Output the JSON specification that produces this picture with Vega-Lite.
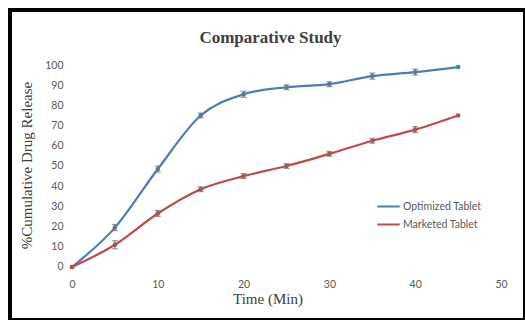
{
  "$schema": "https://vega.github.io/schema/vega-lite/v6.json",
  "width": 515,
  "height": 310,
  "autosize": {"type": "none"},
  "padding": {"left": 10, "top": 10, "right": 0, "bottom": 0},
  "background": "white",
  "config": {
    "view": {"stroke": "#000000", "strokeWidth": 4},
    "axis": {"grid": false, "domain": false, "ticks": false, "labelFont": "Lato", "labelFontSize": 10.5, "labelColor": "#595959", "titleFont": "Liberation Serif", "titleFontSize": 15, "titleFontWeight": "normal", "titleColor": "#404040"}
  },
  "title": {"text": "Comparative Study", "font": "Liberation Serif", "fontSize": 17, "fontWeight": "bold", "color": "#404040", "offset": -37, "anchor": "middle", "dx": 3},
  "data": {
    "values": [
      {"t": 0, "v": 0, "err": 0, "s": "Optimized Tablet"},
      {"t": 5, "v": 19.5, "err": 1.5, "s": "Optimized Tablet"},
      {"t": 10, "v": 48.5, "err": 1.5, "s": "Optimized Tablet"},
      {"t": 15, "v": 75, "err": 1.2, "s": "Optimized Tablet"},
      {"t": 20, "v": 85.5, "err": 1.5, "s": "Optimized Tablet"},
      {"t": 25, "v": 89, "err": 1.2, "s": "Optimized Tablet"},
      {"t": 30, "v": 90.5, "err": 1.2, "s": "Optimized Tablet"},
      {"t": 35, "v": 94.5, "err": 1.5, "s": "Optimized Tablet"},
      {"t": 40, "v": 96.5, "err": 1.5, "s": "Optimized Tablet"},
      {"t": 45, "v": 99, "err": 0, "s": "Optimized Tablet"},
      {"t": 0, "v": 0, "err": 0, "s": "Marketed Tablet"},
      {"t": 5, "v": 11, "err": 2, "s": "Marketed Tablet"},
      {"t": 10, "v": 26.5, "err": 1.5, "s": "Marketed Tablet"},
      {"t": 15, "v": 38.5, "err": 1.2, "s": "Marketed Tablet"},
      {"t": 20, "v": 45, "err": 1.2, "s": "Marketed Tablet"},
      {"t": 25, "v": 50, "err": 1.2, "s": "Marketed Tablet"},
      {"t": 30, "v": 56, "err": 1.2, "s": "Marketed Tablet"},
      {"t": 35, "v": 62.5, "err": 1.2, "s": "Marketed Tablet"},
      {"t": 40, "v": 68, "err": 1.5, "s": "Marketed Tablet"},
      {"t": 45, "v": 75, "err": 0, "s": "Marketed Tablet"}
    ]
  },
  "encoding": {
    "x": {"field": "t", "type": "quantitative", "scale": {"domain": [-7.226, 52.797], "nice": false, "zero": false}, "axis": {"values": [0, 10, 20, 30, 40, 50], "offset": -53, "labelPadding": 12, "title": "Time (Min)", "titlePadding": 2}},
    "y": {"field": "v", "type": "quantitative", "scale": {"domain": [-26.24, 127.23], "nice": false, "zero": false}, "axis": {"values": [0, 10, 20, 30, 40, 50, 60, 70, 80, 90, 100], "offset": -62, "labelPadding": 9, "title": "%Cumulative Drug Release", "titlePadding": 10}}
  },
  "layer": [
    {
      "data": {"values": [{}]},
      "mark": {"type": "rule", "color": "#bfbfbf", "strokeWidth": 1},
      "encoding": {"x": {"datum": 0, "type": "quantitative"}, "x2": {"datum": 50}, "y": {"datum": 0, "type": "quantitative"}}
    },
    {
      "data": {"values": [{}]},
      "mark": {"type": "rule", "color": "#bfbfbf", "strokeWidth": 1},
      "encoding": {"x": {"datum": 0, "type": "quantitative"}, "y": {"datum": 0, "type": "quantitative"}, "y2": {"datum": 100}}
    },
    {
      "mark": {"type": "line", "interpolate": "monotone", "strokeWidth": 2.2},
      "encoding": {
        "color": {"field": "s", "type": "nominal", "scale": {"domain": ["Optimized Tablet", "Marketed Tablet"], "range": ["#4A7EBB", "#BE4B48"]}, "legend": {"orient": "none", "legendX": 366, "legendY": 184, "title": null, "symbolType": "stroke", "symbolStrokeWidth": 2, "symbolSize": 500, "labelFont": "Lato", "labelFontSize": 10.5, "labelColor": "#595959", "labelOffset": 2, "rowPadding": -5}}
      }
    },
    {
      "mark": {"type": "point", "filled": true, "size": 22, "opacity": 1},
      "encoding": {"color": {"field": "s", "type": "nominal", "legend": null}}
    },
    {
      "transform": [{"filter": "datum.err > 0"}],
      "mark": {"type": "errorbar", "ticks": {"size": 6}, "thickness": 1.2},
      "encoding": {"yError": {"field": "err"}, "color": {"value": "#707070"}}
    }
  ]
}
